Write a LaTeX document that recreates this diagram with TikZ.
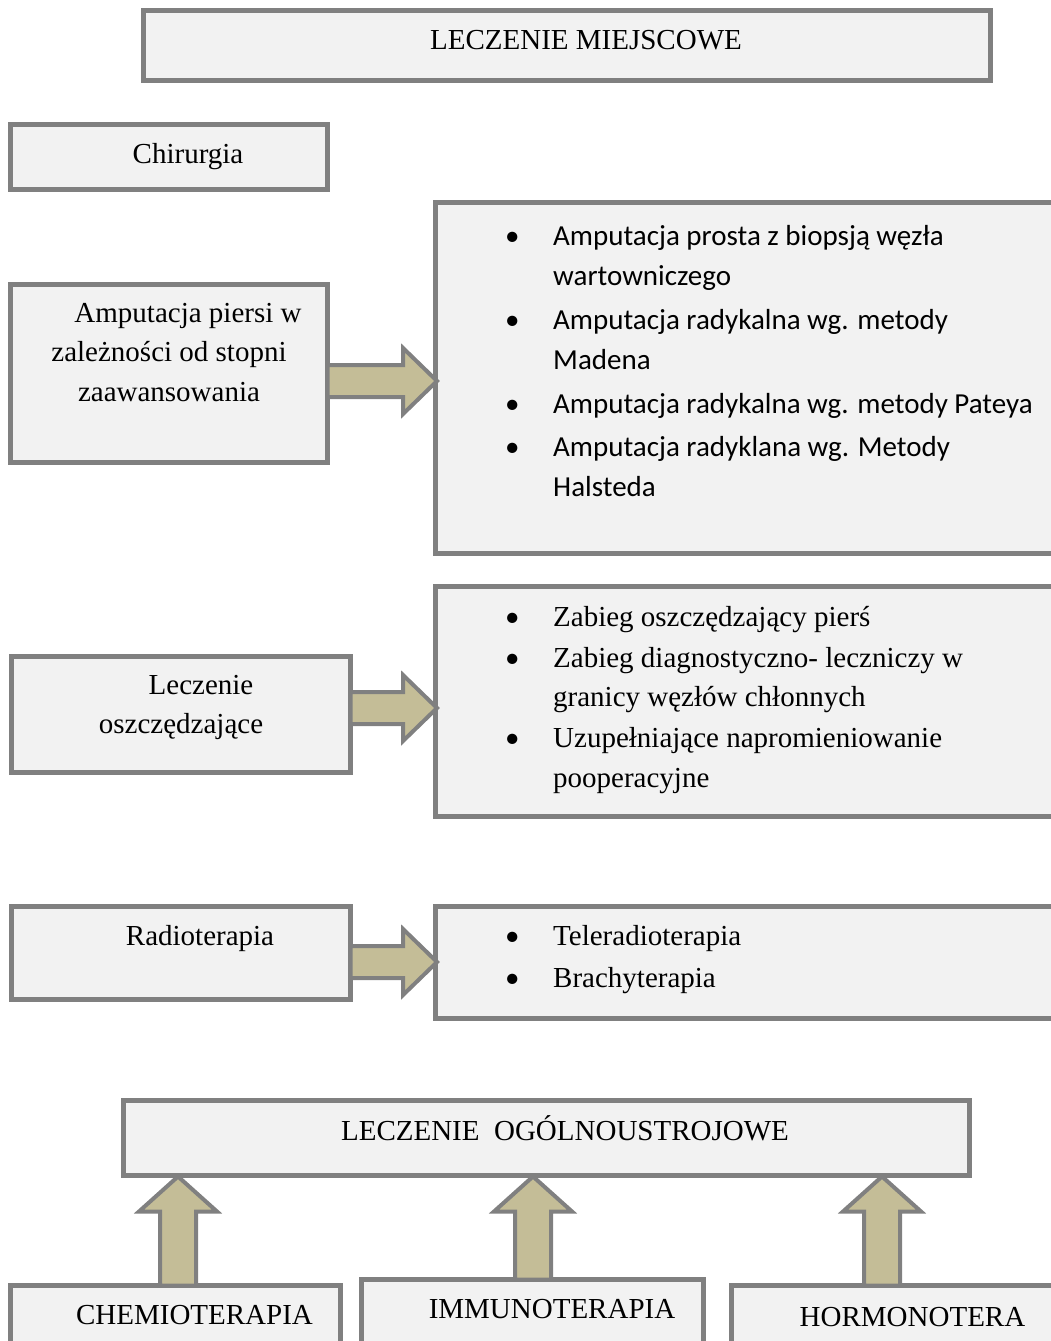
\documentclass[tikz,border=0pt]{standalone}
\usepackage{fontspec}
\setmainfont{Liberation Serif}
\newfontfamily\calibri{Carlito}
\usetikzlibrary{calc}

\definecolor{boxfill}{HTML}{F2F2F2}
\definecolor{linegray}{HTML}{808080}
\definecolor{arrowtan}{HTML}{C4BD97}

\tikzset{
  box/.style={draw=linegray, fill=boxfill, line width=5pt, inner sep=0pt, outer sep=0pt, anchor=north west},
  txt/.style={inner sep=0pt, anchor=base, font=\fontsize{29}{39.5}\selectfont},
  fatarrow/.style={draw=linegray, fill=arrowtan, line width=4pt, line join=miter},
}

\newcommand{\dotitem}{{\calibri\textbullet}}

% block arrow to the right: from, to, y of its axis
\newcommand{\fatright}[3]{%
  \draw[fatarrow] (#1.east |- 0,{#3-16})
    -- ($(#2.west |- 0,{#3-16})+(-32.5,0)$)
    -- ($(#2.west |- 0,{#3-33})+(-32.5,0)$)
    -- ($(#2.west |- 0,#3)+(1.5,0)$)
    -- ($(#2.west |- 0,{#3+33})+(-32.5,0)$)
    -- ($(#2.west |- 0,{#3+16})+(-32.5,0)$)
    -- (#1.east |- 0,{#3+16}) -- cycle;}

% block arrow upwards: from, to, x of its axis
\newcommand{\fatup}[3]{%
  \draw[fatarrow] ({#3-18},0 |- #1.north)
    -- ($({#3-18},0 |- #2.south)+(0,36)$)
    -- ($({#3-39},0 |- #2.south)+(0,36)$)
    -- ($(#3,0 |- #2.south)+(0,1)$)
    -- ($({#3+39},0 |- #2.south)+(0,36)$)
    -- ($({#3+18},0 |- #2.south)+(0,36)$)
    -- ({#3+18},0 |- #1.north) -- cycle;}

\begin{document}
\begin{tikzpicture}[x=1pt, y=-1pt]
  \useasboundingbox (0,0) rectangle (1051,1341);

  % boxes
  \node[box, minimum width=847pt, minimum height=70pt] (mw) at (143,10) {};
  \node[box, minimum width=317pt, minimum height=65pt] (chir) at (10.5,124.5) {};
  \node[box, minimum width=317pt, minimum height=178pt] (amp) at (10.5,284) {};
  \node[box, minimum width=630pt, minimum height=351pt] (r1) at (435.5,202.5) {};
  \node[box, minimum width=339.5pt, minimum height=116pt] (lo) at (11,656) {};
  \node[box, minimum width=630pt, minimum height=230pt] (r2) at (435.5,586) {};
  \node[box, minimum width=339.5pt, minimum height=93pt] (rad) at (11,906) {};
  \node[box, minimum width=630pt, minimum height=112pt] (r3) at (435.5,906) {};
  \node[box, minimum width=846.5pt, minimum height=75.5pt] (og) at (123,1100) {};
  \node[box, minimum width=330pt, minimum height=80pt] (chem) at (10.5,1285.5) {};
  \node[box, minimum width=342.5pt, minimum height=80pt] (imm) at (361,1279.5) {};
  \node[box, minimum width=340pt, minimum height=80pt] (horm) at (731.5,1285.5) {};

  % texts
  \node[txt] (mwt) at (586,49.5) {LECZENIE MIEJSCOWE};
  \node[txt] (chirt) at (188,163) {Chirurgia};
  \node[txt] (ampt) at (169,322) {\begin{tabular}[t]{@{}c@{}}
    \hspace*{38pt}Amputacja piersi w\\
    zależności od stopni\\
    zaawansowania\end{tabular}};
  \node[txt, anchor=base west, font=\calibri\fontsize{29}{40}\selectfont] (r1t) at (505,245) {\begin{tabular}[t]{@{}p{48pt}@{}l@{}}
    \dotitem & Amputacja prosta z biopsją węzła\\
     & wartowniczego\\[4pt]
    \dotitem & Amputacja radykalna wg. metody\\
     & Madena\\[4pt]
    \dotitem & Amputacja radykalna wg. metody Pateya\\[3pt]
    \dotitem & Amputacja radyklana wg. Metody\\
     & Halsteda\end{tabular}};
  \node[txt] (lot) at (181,694) {\begin{tabular}[t]{@{}c@{}}
    \hspace*{40pt}Leczenie\\
    oszczędzające\end{tabular}};
  \node[txt, anchor=base west] (r2t) at (505,626) {\begin{tabular}[t]{@{}p{48pt}@{}l@{}}
    \dotitem & Zabieg oszczędzający pierś\\[1.5pt]
    \dotitem & Zabieg diagnostyczno- leczniczy w\\
     & granicy węzłów chłonnych\\[1.5pt]
    \dotitem & Uzupełniające napromieniowanie\\
     & pooperacyjne\end{tabular}};
  \node[txt] (radt) at (200,945) {Radioterapia};
  \node[txt, anchor=base west] (r3t) at (505,945) {\begin{tabular}[t]{@{}p{48pt}@{}l@{}}
    \dotitem & Teleradioterapia\\[2.5pt]
    \dotitem & Brachyterapia\end{tabular}};
  \node[txt] (ogt) at (565,1140) {LECZENIE\ \ OGÓLNOUSTROJOWE};
  \node[txt] (chemt) at (194.5,1324) {CHEMIOTERAPIA};
  \node[txt] (immt) at (552,1318) {IMMUNOTERAPIA};
  \node[txt] (hormt) at (912.5,1326) {HORMONOTERA};

  % arrows
  \fatright{amp}{r1}{381}
  \fatright{lo}{r2}{708}
  \fatright{rad}{r3}{962}
  \fatup{chem}{og}{178}
  \fatup{imm}{og}{533}
  \fatup{horm}{og}{882}
\end{tikzpicture}
\end{document}
